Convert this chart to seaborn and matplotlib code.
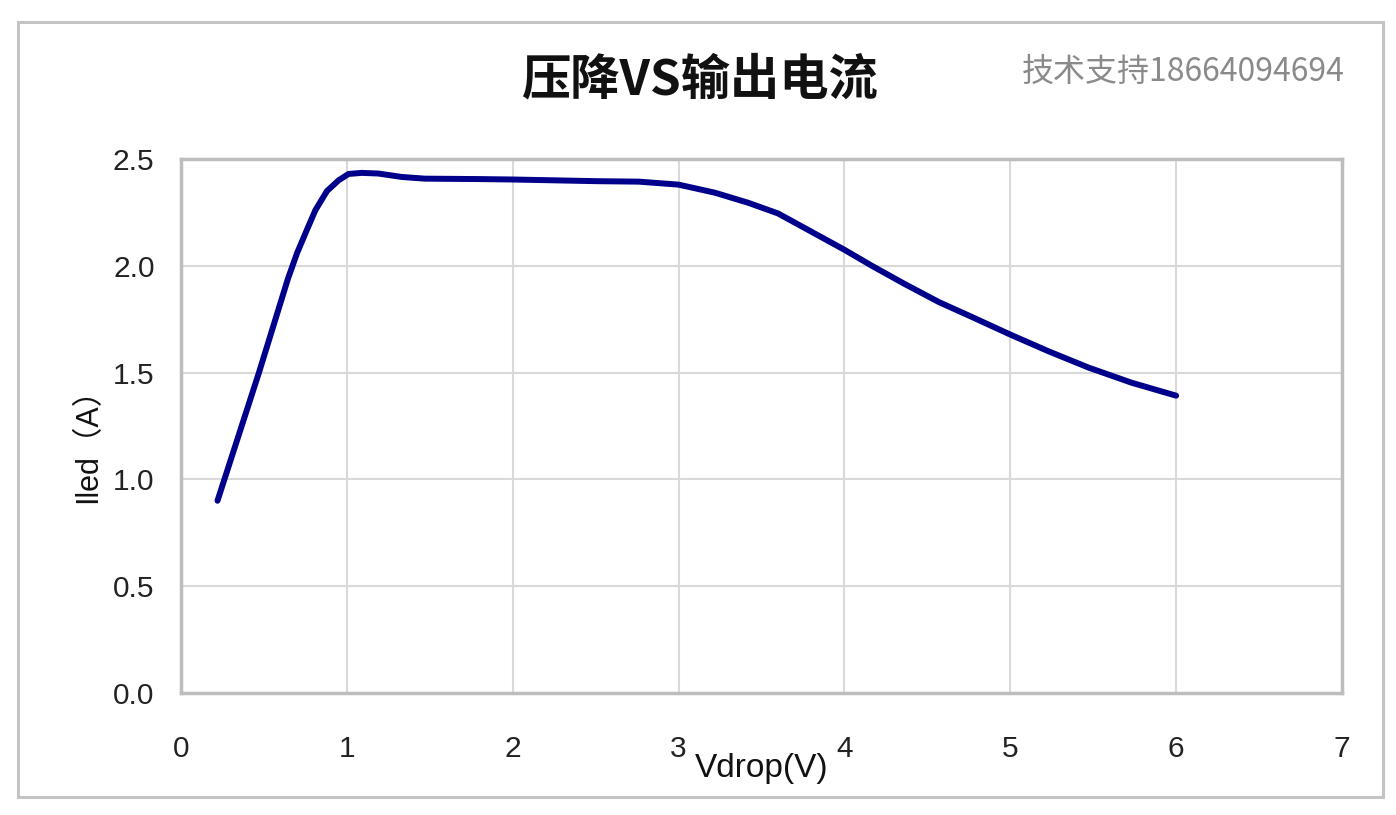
import matplotlib
matplotlib.use("Agg")
import matplotlib.pyplot as plt
import matplotlib.patches as mpatches
import seaborn as sns
import pandas as pd

# Data
vdrop = [0.22, 0.47, 0.645, 0.70, 0.76, 0.81, 0.88, 0.95, 1.01, 1.09, 1.19,
         1.33, 1.47, 1.80, 2.00, 2.52, 2.76, 3.00, 3.22, 3.42, 3.60, 3.80,
         4.00, 4.17, 4.37, 4.57, 4.77, 5.00, 5.23, 5.47, 5.73, 6.00]
iled = [0.90, 1.50, 1.94, 2.06, 2.17, 2.26, 2.35, 2.40, 2.43, 2.435, 2.432,
        2.416, 2.408, 2.406, 2.404, 2.396, 2.394, 2.38, 2.342, 2.295, 2.245, 2.160,
        2.075, 1.998, 1.912, 1.83, 1.76, 1.678, 1.60, 1.524, 1.453, 1.392]
x_ticks = [0, 1, 2, 3, 4, 5, 6, 7]
y_ticks = [0.0, 0.5, 1.0, 1.5, 2.0, 2.5]

title = "压降VS输出电流"
watermark = "技术支持18664094694"
xlabel = "Vdrop(V)"
ylabel = "Iled（A）"

sns.set_theme(style="whitegrid")
plt.rcParams['font.family'] = ['Liberation Sans', 'Noto Sans CJK SC', 'DejaVu Sans']

df = pd.DataFrame({"Vdrop": vdrop, "Iled": iled})

fig = plt.figure(figsize=(13.96, 8.15), dpi=100)
ax = fig.add_axes([181/1396, 1-693/815, (1342-181)/1396, (693-159)/815])

sns.lineplot(data=df, x="Vdrop", y="Iled", ax=ax, color="#00008b",
             linewidth=4.3, sort=False, estimator=None)
ax.lines[0].set_solid_capstyle("round")
ax.lines[0].set_solid_joinstyle("round")

ax.set_xlim(0, 7)
ax.set_ylim(0, 2.5)
ax.set_xticks(x_ticks)
ax.set_xticklabels([str(t) for t in x_ticks])
ax.set_yticks(y_ticks)
ax.set_yticklabels([f"{t:.1f}" for t in y_ticks])
ax.tick_params(axis='x', labelsize=21.5, pad=30, length=0, colors="#222222")
ax.tick_params(axis='y', labelsize=21.5, pad=19, length=0, colors="#222222")

ax.grid(True, color="#d9d9d9", linewidth=1.5)
for s in ax.spines.values():
    s.set_visible(True)
    s.set_color("#bdbdbd")
    s.set_linewidth(2.5)

ax.set_xlabel(xlabel, fontsize=24, color="#111111")
ax.xaxis.label.set_va("center")
ax.xaxis.set_label_coords(0.5, (693-768)/534)
ax.set_ylabel(ylabel, fontsize=22, color="#111111",
              family=['Liberation Sans', 'Noto Sans CJK SC'])
ax.yaxis.label.set_va("center")
ax.yaxis.set_label_coords((88-181)/1161, (693-438)/534)

fig.text(699/1396, 1-80/815, title, ha="center", va="center",
         fontsize=35.5, fontweight="bold", color="#111111",
         family=['Noto Sans CJK SC', 'DejaVu Sans'])
fig.text(1345/1396, 1-72/815, watermark, ha="right", va="center",
         fontsize=23, color="#8a8a8a",
         family=['Noto Sans CJK SC', 'DejaVu Sans'])

frame = mpatches.Rectangle((18/1396, 1-797/815), (1383-18)/1396, (797-22)/815,
                           transform=fig.transFigure, fill=False,
                           edgecolor="#c4c4c4", linewidth=2.2)
fig.patches.append(frame)

fig.savefig("out.png", dpi=100, facecolor="white")
